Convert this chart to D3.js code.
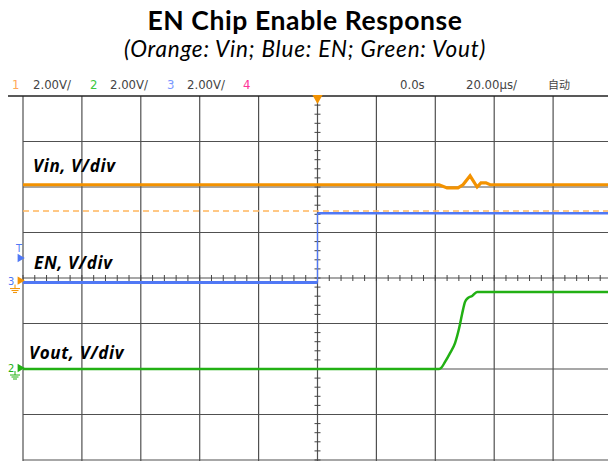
<!DOCTYPE html>
<html>
<head>
<meta charset="utf-8">
<script src="https://cdn.jsdelivr.net/npm/d3@7"></script>
<style>
  html, body { margin: 0; padding: 0; background: #fff; }
  svg { display: block; }
</style>
</head>
<body>
<svg id="chart" width="608" height="461"></svg>
<script>
// ---------- data ----------
const titleText = "EN Chip Enable Response";
const subtitleText = "(Orange: Vin; Blue: EN; Green: Vout)";

// Header channel settings
const channelLabels = ["1", "2", "3", "4"];
const channelScales = ["2.00V/", "2.00V/", "2.00V/", ""];
const timeOffsetLabel = "0.0s";
const timeBaseLabel = "20.00µs/";
const triggerModeLabel = "自动";

// Time axis (µs), 20 µs/div, 10 divisions
const timeDomain = [-100, 100];
const timeTicks = [-100, -80, -60, -40, -20, 0, 20, 40, 60, 80, 100];
// Vertical divisions
const divDomain = [-4, 4];
const divTicks = [-4, -3, -2, -1, 0, 1, 2, 3, 4];
const voltsPerDiv = 2.0;

// Channel ground offsets (in divisions)
const vinOffset = -0.1;
const enOffset = -0.1;
const voutOffset = -2.0;

// Vin trace (time µs, volts)
const vinTime = [-100, 41.3, 44.0, 47.7, 49.4, 51.8, 54.2, 55.5, 57.2, 58.6, 100];
const vinVolts = [4.30, 4.30, 4.16, 4.16, 4.30, 4.69, 4.20, 4.38, 4.38, 4.30, 4.30];

// EN trace
const enTime = [-100, 0, 0, 100];
const enVolts = [0.0, 0.0, 3.05, 3.05];

// Vout trace
const voutTime = [-100, 41.3, 42.0, 43.3, 45.0, 46.7, 48.1, 49.1, 50.1, 51.1, 52.5, 54.2, 100];
const voutVolts = [0.0, 0.0, 0.05, 0.31, 0.70, 1.14, 1.80, 2.42, 2.95, 3.12, 3.21, 3.38, 3.38];

// Trigger level reference (volts on Vin channel)
const triggerLevel = 3.15;

// Annotations (volts on the matching channel)
const annoLabels = ["Vin, V/div", "EN, V/div", "Vout, V/div"];
const annoVolts = [4.86, 0.6, 0.44];

// ---------- drawing ----------
const svg = d3.select("#chart");
const W = 608, H = 461;
const plotLeft = 23, plotTop = 96, divW = 58.9, divH = 45.5;

const x = d3.scaleLinear().domain(timeDomain).range([plotLeft, plotLeft + 10 * divW]);
const yDiv = d3.scaleLinear().domain(divDomain).range([plotTop + 8 * divH, plotTop]);
const yCh = off => v => yDiv(v / voltsPerDiv + off);

const colVin = "#f39200", colVinLight = "#ffb65e", colEn = "#5078f5", colOut = "#22b014";

// title
svg.append("text").attr("x", 305).attr("y", 30).attr("text-anchor", "middle")
  .style("font-family", "Lato, 'Open Sans', sans-serif").style("font-weight", "bold")
  .style("font-size", "26.5px").style("letter-spacing", "0.6px").attr("fill", "#000").text(titleText);
svg.append("text").attr("x", 305).attr("y", 57).attr("text-anchor", "middle")
  .style("font-family", "Lato, 'Open Sans', sans-serif").style("font-style", "italic")
  .style("font-size", "22.5px").style("letter-spacing", "0.8px").attr("fill", "#000").text(subtitleText);

// header
const hdrFont = "'Liberation Sans Narrow', 'DejaVu Sans Condensed', sans-serif";
const hdrColors = ["#ffa858", "#3cc83c", "#7b98ff", "#ff3399"];
const hdrNumX = [12, 90, 167, 243];
const hdrValX = [33, 110, 187, 0];
const hdr = svg.append("g").style("font-family", hdrFont).style("font-size", "13px");
channelLabels.forEach((c, i) => {
  hdr.append("text").attr("x", hdrNumX[i]).attr("y", 89).attr("fill", hdrColors[i]).text(c);
  if (channelScales[i]) hdr.append("text").attr("x", hdrValX[i]).attr("y", 89).attr("fill", "#444").text(channelScales[i]);
});
hdr.append("text").attr("x", 400).attr("y", 89).attr("fill", "#444").text(timeOffsetLabel);
hdr.append("text").attr("x", 466).attr("y", 89).attr("fill", "#444").text(timeBaseLabel);
hdr.append("text").attr("x", 548).attr("y", 89).attr("fill", "#444")
  .style("font-family", "'Noto Sans CJK SC', sans-serif").style("font-size", "11px").text(triggerModeLabel);

// grid
const grid = svg.append("g").attr("stroke", "#505050").attr("stroke-width", 1.2);
grid.selectAll("line.v").data(timeTicks).join("line")
  .attr("x1", d => x(d)).attr("x2", d => x(d)).attr("y1", plotTop).attr("y2", H);
grid.selectAll("line.h").data(divTicks.slice(0, 8)).join("line")
  .attr("x1", plotLeft).attr("x2", W).attr("y1", d => yDiv(d)).attr("y2", d => yDiv(d));
// top border
svg.append("line").attr("x1", 8).attr("x2", W).attr("y1", plotTop).attr("y2", plotTop)
  .attr("stroke", "#222").attr("stroke-width", 1.5);

// center axis minor ticks
const minorT = d3.range(timeDomain[0], timeDomain[1] + 0.01, 4);
const minorV = d3.range(divDomain[0], divDomain[1] + 0.01, 0.2);
const ticks = svg.append("g").attr("stroke", "#444").attr("stroke-width", 1);
ticks.selectAll("line.tx").data(minorT).join("line")
  .attr("x1", d => x(d)).attr("x2", d => x(d)).attr("y1", yDiv(0) - 3).attr("y2", yDiv(0) + 3);
ticks.selectAll("line.ty").data(minorV).join("line")
  .attr("x1", x(0) - 3).attr("x2", x(0) + 3).attr("y1", d => yDiv(d)).attr("y2", d => yDiv(d));

// trigger level dashed line
const yVin = yCh(vinOffset), yEn = yCh(enOffset), yOut = yCh(voutOffset);
svg.append("line").attr("x1", plotLeft).attr("x2", W)
  .attr("y1", yVin(triggerLevel)).attr("y2", yVin(triggerLevel))
  .attr("stroke", colVinLight).attr("stroke-width", 1.5).attr("stroke-dasharray", "6,4");

// traces
const lineGen = (ts, vs, yf) => d3.line().x(i => x(ts[i])).y(i => yf(vs[i]))(d3.range(ts.length));
svg.append("path").attr("d", lineGen(vinTime, vinVolts, yVin)).attr("fill", "none")
  .attr("stroke", colVin).attr("stroke-width", 3.2);
// EN: thick horizontal segments, thin vertical edge
for (let i = 0; i < enTime.length - 1; i++) {
  const vertical = enTime[i] === enTime[i + 1];
  svg.append("line")
    .attr("x1", x(enTime[i])).attr("x2", x(enTime[i + 1]))
    .attr("y1", yEn(enVolts[i])).attr("y2", yEn(enVolts[i + 1]))
    .attr("stroke", colEn).attr("stroke-width", vertical ? 1.3 : (i === 0 ? 3 : 2.5));
}
svg.append("path").attr("d", d3.line().curve(d3.curveMonotoneX).x(i => x(voutTime[i])).y(i => yOut(voutVolts[i]))(d3.range(voutTime.length)))
  .attr("fill", "none").attr("stroke", colOut).attr("stroke-width", 2.5);

// trigger position marker (top)
svg.append("path").attr("d", d3.symbol(d3.symbolTriangle, 45)())
  .attr("transform", `translate(${x(0)},${plotTop + 2}) rotate(180)`).attr("fill", colVin);

// left markers
function ground(g, cx, cy, col) {
  g.append("line").attr("x1", cx).attr("x2", cx).attr("y1", cy).attr("y2", cy + 4).attr("stroke", col);
  [[5, 0], [3.5, 2], [2, 4]].forEach(([w, dy]) =>
    g.append("line").attr("x1", cx - w).attr("x2", cx + w).attr("y1", cy + 4 + dy).attr("y2", cy + 4 + dy).attr("stroke", col));
}
const mk = svg.append("g").style("font-family", hdrFont).style("font-size", "11px");
mk.append("text").attr("x", 16).attr("y", 252).attr("fill", colEn).text("T");
mk.append("path").attr("d", d3.symbol(d3.symbolTriangle, 30)())
  .attr("transform", `translate(20,258) rotate(90)`).attr("fill", colEn);
mk.append("text").attr("x", 8).attr("y", yEn(0) + 2).attr("fill", colEn).text("3");
mk.append("path").attr("d", d3.symbol(d3.symbolTriangle, 30)())
  .attr("transform", `translate(20,${yEn(0) - 2}) rotate(90)`).attr("fill", colVin);
ground(mk, 15, yEn(0) + 2, colVin);
mk.append("text").attr("x", 8).attr("y", yOut(0) + 3).attr("fill", colOut).text("2");
mk.append("path").attr("d", d3.symbol(d3.symbolTriangle, 30)())
  .attr("transform", `translate(20,${yOut(0) - 1}) rotate(90)`).attr("fill", colOut);
ground(mk, 15, yOut(0) + 2, colOut);

// annotations
const annoY = [yVin(annoVolts[0]), yEn(annoVolts[1]), yOut(annoVolts[2])];
const annoX = [33, 34, 29];
annoLabels.forEach((t, i) => {
  svg.append("text").attr("x", annoX[i]).attr("y", annoY[i])
    .style("font-family", "'Open Sans', Lato, sans-serif").style("font-weight", "bold")
    .style("font-style", "italic").style("font-size", "17px").style("letter-spacing", "0.7px")
    .attr("fill", "#000").text(t);
});
</script>
</body>
</html>
